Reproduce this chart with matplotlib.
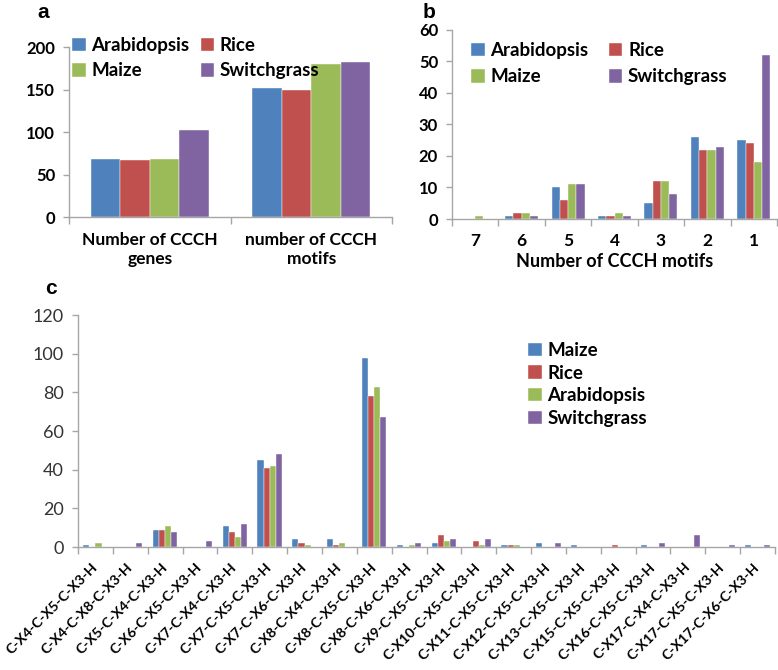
import numpy as np
import matplotlib
matplotlib.use('Agg')
import matplotlib.pyplot as plt

plt.rcParams['font.family'] = ['Lato', 'DejaVu Sans']

# colours (Excel default palette)
c_blue = '#4F81BD'
c_red = '#C0504D'
c_green = '#9BBB59'
c_purple = '#8064A2'
spine_col = '#A6A6A6'

# ---- panel a data ----
a_cats = ['Number of CCCH\ngenes', 'number of CCCH\nmotifs']
a_species = ['Arabidopsis', 'Rice', 'Maize', 'Switchgrass']
a_arab = [68, 152]
a_rice = [67, 150]
a_maize = [68, 180]
a_switch = [102, 183]

# ---- panel b data ----
b_cats = ['7', '6', '5', '4', '3', '2', '1']
b_arab = [0, 1, 10, 1, 5, 26, 25]
b_rice = [0, 2, 6, 1, 12, 22, 24]
b_maize = [1, 2, 11, 2, 12, 22, 18]
b_switch = [0, 1, 11, 1, 8, 23, 52]

# ---- panel c data ----
c_cats = ['C-X4-C-X5-C-X3-H', 'C-X4-C-X8-C-X3-H', 'C-X5-C-X4-C-X3-H',
          'C-X6-C-X5-C-X3-H', 'C-X7-C-X4-C-X3-H', 'C-X7-C-X5-C-X3-H',
          'C-X7-C-X6-C-X3-H', 'C-X8-C-X4-C-X3-H', 'C-X8-C-X5-C-X3-H',
          'C-X8-C-X6-C-X3-H', 'C-X9-C-X5-C-X3-H', 'C-X10-C-X5-C-X3-H',
          'C-X11-C-X5-C-X3-H', 'C-X12-C-X5-C-X3-H', 'C-X13-C-X5-C-X3-H',
          'C-X15-C-X5-C-X3-H', 'C-X16-C-X5-C-X3-H', 'C-X17-C-X4-C-X3-H',
          'C-X17-C-X5-C-X3-H', 'C-X17-C-X6-C-X3-H']
c_species = ['Maize', 'Rice', 'Arabidopsis', 'Switchgrass']
c_maize = [1, 0, 9, 0, 11, 45, 4, 4, 98, 1, 2, 0, 1, 2, 1, 0, 1, 0, 0, 1]
c_rice = [0, 0, 9, 0, 8, 41, 2, 1, 78, 0, 6, 3, 1, 0, 0, 1, 0, 0, 0, 0]
c_arab = [2, 0, 11, 0, 5, 42, 1, 2, 83, 1, 3, 1, 1, 0, 0, 0, 0, 0, 0, 0]
c_switch = [0, 2, 8, 3, 12, 48, 0, 0, 67, 2, 4, 4, 0, 2, 0, 0, 2, 6, 1, 1]

colors = [c_blue, c_red, c_green, c_purple]


def grouped_bars(ax, series, labels, group_w):
    n = len(series)
    w = group_w / n
    x = np.arange(len(series[0]))
    handles = []
    for i, (vals, lab) in enumerate(zip(series, labels)):
        h = ax.bar(x - group_w / 2 + w * (i + 0.5), vals, width=w, color=colors[i],
                   edgecolor='white', linewidth=0.3, label=lab, zorder=2)
        handles.append(h)
    return x, handles


def style_axis(ax, ncat):
    for s in ['top', 'right']:
        ax.spines[s].set_visible(False)
    for s in ['left', 'bottom']:
        ax.spines[s].set_color(spine_col)
        ax.spines[s].set_linewidth(1.0)
    ax.set_xlim(-0.5, ncat - 0.5)
    ax.set_xticks(np.arange(ncat + 1) - 0.5)
    ax.set_xticklabels([])
    ax.tick_params(axis='x', which='major', length=5, color=spine_col, width=1)
    ax.tick_params(axis='y', length=4, color=spine_col, width=1, pad=6)


leg_kw = dict(frameon=False, borderpad=0, borderaxespad=0, handlelength=0.72,
              handleheight=0.72, handletextpad=0.3,
              prop={'weight': 'bold', 'size': 13.5})

fig = plt.figure(figsize=(7.78, 6.70), dpi=100)

# ---------------- panel a ----------------
ax1 = fig.add_axes([69 / 778, 1 - 217 / 670, 323 / 778, 169.7 / 670])
x1, h1 = grouped_bars(ax1, [a_arab, a_rice, a_maize, a_switch], a_species, 0.73)
style_axis(ax1, 2)
ax1.set_ylim(0, 200)
ax1.set_yticks([0, 50, 100, 150, 200])
ax1.set_xticks(x1, minor=True)
ax1.set_xticklabels(a_cats, minor=True, fontsize=12.5, fontweight='bold')
ax1.tick_params(axis='x', which='minor', length=0, pad=11)
for t in ax1.get_yticklabels():
    t.set_fontweight('bold')
    t.set_fontsize(12)
ax1.legend(handles=[h1[0], h1[2], h1[1], h1[3]],
           labels=['Arabidopsis', 'Maize', 'Rice', 'Switchgrass'],
           ncol=2, loc='upper left', bbox_to_anchor=(72 / 778, 1 - 37 / 670),
           bbox_transform=fig.transFigure, columnspacing=0.6, labelspacing=0.45,
           **leg_kw)

# ---------------- panel b ----------------
ax2 = fig.add_axes([452 / 778, 1 - 219 / 670, 325 / 778, 189 / 670])
x2, h2 = grouped_bars(ax2, [b_arab, b_rice, b_maize, b_switch], a_species, 0.71)
style_axis(ax2, 7)
ax2.set_ylim(0, 60)
ax2.set_yticks(np.arange(0, 61, 10))
ax2.set_xticks(x2, minor=True)
ax2.set_xticklabels(b_cats, minor=True, fontsize=12.5, fontweight='bold')
ax2.tick_params(axis='x', which='minor', length=0, pad=10)
for t in ax2.get_yticklabels():
    t.set_fontweight('bold')
    t.set_fontsize(12)
ax2.set_xlabel('Number of CCCH motifs', fontsize=13, fontweight='bold', labelpad=3)
ax2.legend(handles=[h2[0], h2[2], h2[1], h2[3]],
           labels=['Arabidopsis', 'Maize', 'Rice', 'Switchgrass'],
           ncol=2, loc='upper left', bbox_to_anchor=(471 / 778, 1 - 42 / 670),
           bbox_transform=fig.transFigure, columnspacing=1.1, labelspacing=0.5,
           **leg_kw)

# ---------------- panel c ----------------
ax3 = fig.add_axes([78 / 778, 1 - 547 / 670, 697 / 778, 232 / 670])
x3, h3 = grouped_bars(ax3, [c_maize, c_rice, c_arab, c_switch], c_species, 0.7)
style_axis(ax3, len(c_cats))
ax3.set_ylim(0, 120)
ax3.set_yticks(np.arange(0, 121, 20))
for t in ax3.get_yticklabels():
    t.set_fontsize(13)
    t.set_color('#333333')
ax3.set_xticks(x3, minor=True)
ax3.set_xticklabels(c_cats, minor=True, rotation=45, ha='right', va='center',
                    rotation_mode='anchor', fontsize=10.2, fontweight='bold')
ax3.tick_params(axis='x', which='minor', length=0, pad=13)
ax3.legend(loc='upper left', bbox_to_anchor=(528 / 778, 1 - 342 / 670),
           bbox_transform=fig.transFigure, labelspacing=0.3, **leg_kw)

# panel letters
fig.text(37 / 778, 1 - 18 / 670, 'a', fontsize=15, fontweight='bold', family='Liberation Sans')
fig.text(423 / 778, 1 - 18 / 670, 'b', fontsize=15, fontweight='bold', family='Liberation Sans')
fig.text(45 / 778, 1 - 294 / 670, 'c', fontsize=15, fontweight='bold', family='Liberation Sans')

fig.savefig('out.png', dpi=100)
